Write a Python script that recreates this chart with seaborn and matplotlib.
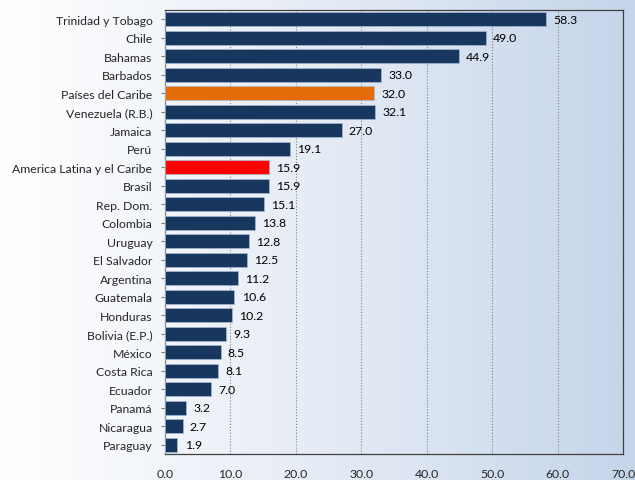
import numpy as np
import pandas as pd
import matplotlib
matplotlib.use("Agg")
import matplotlib.pyplot as plt
import seaborn as sns
from matplotlib.colors import LinearSegmentedColormap

countries = ["Trinidad y Tobago", "Chile", "Bahamas", "Barbados", "Países del Caribe",
             "Venezuela (R.B.)", "Jamaica", "Perú", "America Latina y el Caribe", "Brasil",
             "Rep. Dom.", "Colombia", "Uruguay", "El Salvador", "Argentina", "Guatemala",
             "Honduras", "Bolivia (E.P.)", "México", "Costa Rica", "Ecuador", "Panamá",
             "Nicaragua", "Paraguay"]
values = [58.3, 49.0, 44.9, 33.0, 32.0, 32.1, 27.0, 19.1, 15.9, 15.9, 15.1, 13.8, 12.8,
          12.5, 11.2, 10.6, 10.2, 9.3, 8.5, 8.1, 7.0, 3.2, 2.7, 1.9]
xticks = [0, 10, 20, 30, 40, 50, 60, 70]

navy = "#17375E"
palette = {c: navy for c in countries}
palette["Países del Caribe"] = "#E46C0A"
palette["America Latina y el Caribe"] = "#FF0000"

sns.set_style("white")
plt.rcParams["font.family"] = ["Lato", "DejaVu Sans"]

df = pd.DataFrame({"country": countries, "value": values})

fig = plt.figure(figsize=(6.35, 4.81), dpi=100)
# background gradient
bg = fig.add_axes([0, 0, 1, 1], zorder=0)
grad = np.linspace(0, 1, 256)[None, :]
cmap = LinearSegmentedColormap.from_list("bg", ["#FFFFFF", "#E6ECF5", "#C5D5EA"])
bg.imshow(grad, aspect="auto", cmap=cmap, extent=[0, 1, 0, 1])
bg.axis("off")

ax = fig.add_axes([165/635, 1 - 455/481, (623 - 165)/635, (455 - 11)/481], zorder=1)
ax.patch.set_alpha(0)
sns.barplot(data=df, x="value", y="country", hue="country", palette=palette,
            legend=False, ax=ax, width=0.76, saturation=1, edgecolor="#A8BAD4",
            linewidth=0.5, zorder=3)
ax.set_xlim(0, 70)
ax.set_xticks(xticks)
ax.set_xticklabels([f"{t:.1f}" for t in xticks], fontsize=8.8)
ax.tick_params(axis="x", pad=7, length=3, color="#808080")
ax.tick_params(axis="y", length=3, color="#808080", labelsize=8.8, left=True, pad=6)
ax.set_xlabel("")
ax.set_ylabel("")
ax.grid(axis="x", linestyle=":", color="#808080", linewidth=0.8, zorder=0)
ax.set_axisbelow(True)
for s in ax.spines.values():
    s.set_color("#404040")
    s.set_linewidth(0.9)
ax.spines["left"].set_color("#8C8C8C")

for i, v in enumerate(values):
    ax.text(v + 1.1, i, f"{v:.1f}", va="center", ha="left", fontsize=8.8, color="black",
            zorder=4)

fig.savefig("out.png", dpi=100)
